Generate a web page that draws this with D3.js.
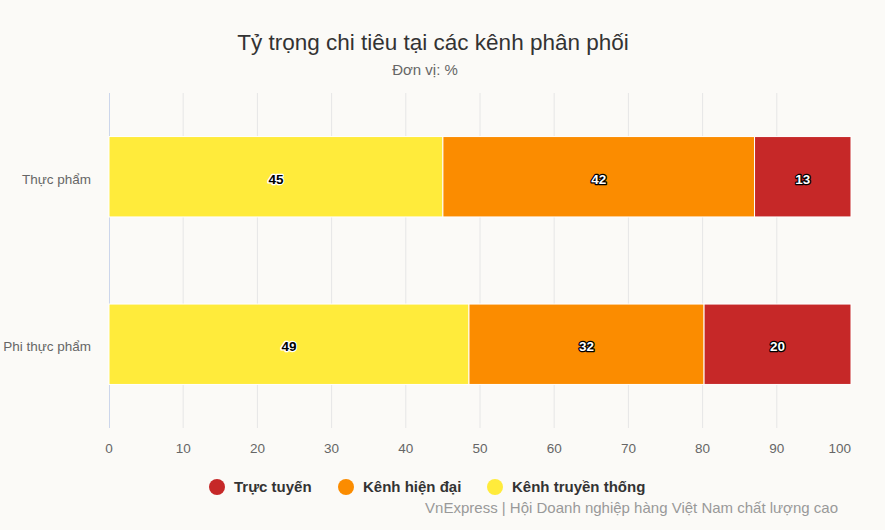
<!DOCTYPE html>
<html>
<head>
<meta charset="utf-8">
<script src="https://cdn.jsdelivr.net/npm/d3@7"></script>
<style>
  html, body { margin: 0; padding: 0; background: #fbfaf7; }
  svg { display: block; font-family: "Liberation Sans", Arial, sans-serif; }
</style>
</head>
<body>
<svg id="chart"></svg>
<script>
// data
const categories = ['Thực phẩm', 'Phi thực phẩm'];
const seriesNames = ['Kênh truyền thống', 'Kênh hiện đại', 'Trực tuyến'];
const truyenThong = [45, 49];
const hienDai = [42, 32];
const trucTuyen = [13, 20];
const xTicks = [0, 10, 20, 30, 40, 50, 60, 70, 80, 90, 100];
const legendOrder = ['Trực tuyến', 'Kênh hiện đại', 'Kênh truyền thống'];

const colors = {
  'Kênh truyền thống': '#ffeb3b',
  'Kênh hiện đại': '#fb8c00',
  'Trực tuyến': '#c62828'
};
const labelFill = { 'Kênh truyền thống': '#000', 'Kênh hiện đại': '#fff', 'Trực tuyến': '#fff' };
const labelStroke = { 'Kênh truyền thống': '#fff', 'Kênh hiện đại': '#000', 'Trực tuyến': '#000' };

const W = 885, H = 530;
const margin = { top: 93, right: 34, bottom: 102, left: 109 };

const rows = categories.map((c, i) => ({
  cat: c,
  'Kênh truyền thống': truyenThong[i],
  'Kênh hiện đại': hienDai[i],
  'Trực tuyến': trucTuyen[i]
}));

// bars are stacked to percent, labels show raw values
const stacked = d3.stack().keys(seriesNames).offset(d3.stackOffsetExpand)(rows);

const svg = d3.select('#chart').attr('width', W).attr('height', H);

svg.append('rect').attr('width', W).attr('height', H).attr('fill', '#fbfaf7');

const x = d3.scaleLinear().domain([0, 100]).range([margin.left, W - margin.right]);
const y = d3.scaleBand().domain(categories)
  .range([margin.top, H - margin.bottom])
  .paddingInner(0.52).paddingOuter(0.26);

// title
svg.append('text')
  .attr('x', 433).attr('y', 50)
  .attr('text-anchor', 'middle')
  .style('font-size', '22.5px').style('fill', '#333')
  .text('Tỷ trọng chi tiêu tại các kênh phân phối');

svg.append('text')
  .attr('x', 425).attr('y', 75)
  .attr('text-anchor', 'middle')
  .style('font-size', '15px').style('fill', '#666')
  .text('Đơn vị: %');

// grid
svg.append('g')
  .selectAll('line')
  .data(xTicks.filter(d => d > 0 && d < 100))
  .enter().append('line')
    .attr('x1', d => x(d)).attr('x2', d => x(d))
    .attr('y1', margin.top).attr('y2', H - margin.bottom)
    .attr('stroke', '#e6e6e6').attr('stroke-width', 1);

// x tick labels
svg.append('g')
  .selectAll('text')
  .data(xTicks)
  .enter().append('text')
    .attr('x', d => x(d))
    .attr('y', 453)
    .attr('text-anchor', d => d === 100 ? 'end' : 'middle')
    .style('font-size', '13.5px').style('fill', '#666')
    .text(d => d);

// y axis line
svg.append('line')
  .attr('x1', margin.left + 0.5).attr('x2', margin.left + 0.5)
  .attr('y1', margin.top).attr('y2', H - margin.bottom)
  .attr('stroke', '#ccd6eb').attr('stroke-width', 1);

// y labels
svg.append('g')
  .selectAll('text')
  .data(categories)
  .enter().append('text')
    .attr('x', 91)
    .attr('y', d => y(d) + y.bandwidth() / 2 + 7)
    .attr('text-anchor', 'end')
    .style('font-size', '13.5px').style('fill', '#666')
    .text(d => d);

// bars
const layers = svg.append('g')
  .selectAll('g')
  .data(stacked)
  .enter().append('g')
    .attr('fill', d => colors[d.key]);

layers.selectAll('rect')
  .data(d => d.map(p => ({ key: d.key, p: p })))
  .enter().append('rect')
    .attr('x', d => x(d.p[0] * 100))
    .attr('width', d => x(d.p[1] * 100) - x(d.p[0] * 100))
    .attr('y', d => y(d.p.data.cat))
    .attr('height', y.bandwidth())
    .attr('stroke', '#fff').attr('stroke-width', 1);

// data labels
layers.selectAll('text')
  .data(d => d.map(p => ({ key: d.key, p: p })))
  .enter().append('text')
    .attr('x', d => x((d.p[0] + d.p[1]) * 50))
    .attr('y', d => y(d.p.data.cat) + y.bandwidth() / 2 + 7)
    .attr('text-anchor', 'middle')
    .style('font-size', '13.5px').style('font-weight', 'bold')
    .style('fill', d => labelFill[d.key])
    .style('stroke', d => labelStroke[d.key])
    .style('stroke-width', '2.5px')
    .style('stroke-linejoin', 'round')
    .style('paint-order', 'stroke')
    .text(d => d.p.data[d.key]);

// legend
const legendX = [217, 346, 495];
const lg = svg.append('g')
  .selectAll('g')
  .data(legendOrder)
  .enter().append('g')
    .attr('transform', (d, i) => 'translate(' + legendX[i] + ',487)');

lg.append('circle').attr('r', 8).attr('fill', d => colors[d]);
lg.append('text')
  .attr('x', 17).attr('y', 5)
  .style('font-size', '15px').style('font-weight', 'bold').style('fill', '#333')
  .text(d => d);

// source
svg.append('text')
  .attr('x', 838).attr('y', 513)
  .attr('text-anchor', 'end')
  .style('font-size', '15px').style('fill', '#999')
  .text('VnExpress | Hội Doanh nghiệp hàng Việt Nam chất lượng cao');
</script>
</body>
</html>
